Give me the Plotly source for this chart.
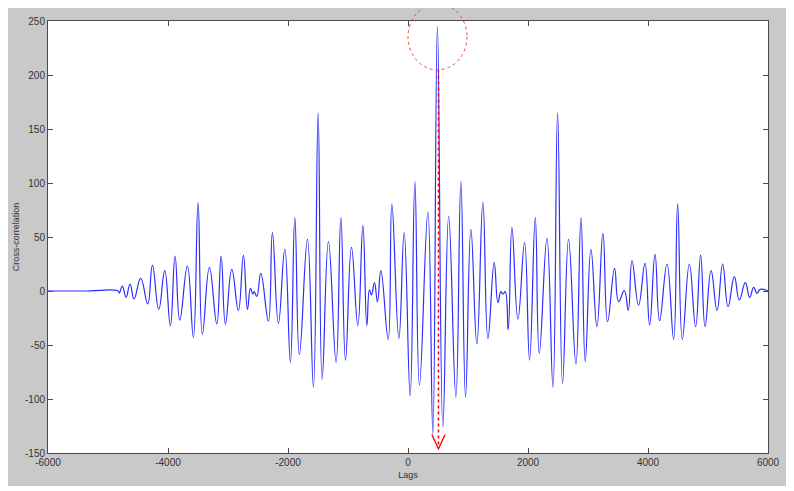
import plotly.graph_objects as go

# Cross-correlation extrema (lag, value)
lags = [
    -6000, -5400, -4830, -4811, -4761, -4699, -4633, -4566, -4455, -4338, -4260,
    -4154, -4054, -3961, -3882, -3804, -3677, -3577, -3499, -3427, -3310,
    -3187, -3115, -3043, -2937, -2827, -2743, -2676, -2626, -2587, -2565,
    -2520, -2453, -2327, -2260, -2160, -2053, -1960, -1886, -1810, -1676,
    -1576, -1498, -1431, -1326, -1198, -1119, -1042, -942, -836, -752,
    -686, -642, -609, -559, -509, -452, -330, -269, -152, -64,
    36, 115, 191, 331, 414, 490, 581, 678, 798, 881,
    959, 1048, 1148, 1248, 1332, 1437, 1499, 1548, 1582, 1620,
    1671, 1732, 1832, 1943, 2026, 2121, 2188, 2316, 2416, 2493,
    2576, 2676, 2799, 2883, 2954, 3049, 3149, 3249, 3326, 3443,
    3510, 3605, 3671, 3733, 3843, 3950, 4027, 4117, 4193, 4317,
    4427, 4494, 4572, 4689, 4794, 4877, 4951, 5051, 5151, 5244,
    5334, 5439, 5522, 5622, 5694, 5761, 5817, 5870, 6000,
]
xcorr = [
    0, 0, 0, -2, 4.6, -5.9, 6.5, -7.4, 11.7, -12, 23.8,
    -17, 18.8, -32, 32.4, -27, 23.1, -43, 81.8, -40, 21.9,
    -30.5, 32.4, -30.6, 20, -18, 33, -17, 2.5, -2.8, -0.6,
    -5, 16.4, -28, 54, -30, 38.9, -66, 68, -59, 47.8,
    -89, 165, -81.8, 45.7, -66, 68, -64, 40.4, -32, 60.8,
    -32, 1, -3.7, 7.7, -10, 18.8, -44.8, 80.5, -43.8, 54,
    -97, 101, -87, 73, -132, 245, -125.6, 69.4, -98, 101.5,
    -98, 57, -49, 82, -44, 26.2, -10.8, -0.6, -2.8, -0.6,
    -35.5, 59, -26, 44.7, -64, 68, -57.7, 48.8, -89, 165,
    -85.5, 47.8, -67.6, 68, -65.4, 38.6, -33, 53.4, -28.4, 21,
    -9.9, 0.3, -18, 28, -13, 25.6, -31.5, 34, -27.5, 25,
    -44.8, 81, -44.8, 25, -33, 33.3, -33, 18.8, -18, 25,
    -14.5, 13.3, -8.3, 7.7, -5.9, 3.4, -2.2, 1.5, 0,
]

x_ticks = [-6000, -4000, -2000, 0, 2000, 4000, 6000]
x_ticktext = ["-6000", "-4000", "-2000", "0", "2000", "4000", "6000"]
y_ticks = [-150, -100, -50, 0, 50, 100, 150, 200, 250]
y_ticktext = ["-150", "-100", "-50", "0", "50", "100", "150", "200", "250"]

peak_lag = 508      # where the red arrow marks the maximum
arrow_top = 205
arrow_tip = -146

fig = go.Figure()

fig.add_trace(go.Scatter(
    x=lags, y=xcorr, mode="lines",
    line=dict(color="rgb(45,45,255)", width=1.2, shape="spline", smoothing=1.3),
    showlegend=False, hoverinfo="skip",
))

axis_common = dict(
    showgrid=False, zeroline=False, automargin=False,
    showline=True, linecolor="#4a4a4a", linewidth=1,
    mirror="allticks", ticks="inside", ticklen=5, tickcolor="#4a4a4a",
    tickfont=dict(family="Liberation Sans, Arial", size=10, color="#333"),
)

# ── red marking: dashed arrow from the peak down to the axis ──
shapes = [
    dict(type="line", xref="x", yref="y",
         x0=peak_lag, x1=peak_lag, y0=arrow_top, y1=arrow_tip,
         line=dict(color="red", width=1.5, dash="dot")),
    dict(type="path", xref="x", yref="y",
         path=f"M {peak_lag - 110},{arrow_tip + 13} L {peak_lag},{arrow_tip} L {peak_lag + 110},{arrow_tip + 13}",
         line=dict(color="red", width=1.3)),
    # dotted circle around the peak (spills over the top of the axes)
    dict(type="circle", xref="paper", yref="paper",
         x0=0.500, x1=0.582, y0=0.887, y1=1.040,
         line=dict(color="#ee4a4a", width=1, dash="dot")),
]

fig.update_layout(
    width=779, height=478,
    margin=dict(l=40, r=19, t=13, b=33),
    paper_bgcolor="#c9c9c9",
    plot_bgcolor="white",
    xaxis=dict(axis_common, range=[-6000, 6000], tickvals=x_ticks, ticktext=x_ticktext,
               title=dict(text="Lags", standoff=4,
                          font=dict(family="Liberation Sans, Arial", size=9, color="#333"))),
    yaxis=dict(axis_common, range=[-150, 250], tickvals=y_ticks, ticktext=y_ticktext,
               title=dict(text="Cross-correlation", standoff=3,
                          font=dict(family="Liberation Sans, Arial", size=9, color="#333"))),
    shapes=shapes,
)

fig.write_html("out.html")
